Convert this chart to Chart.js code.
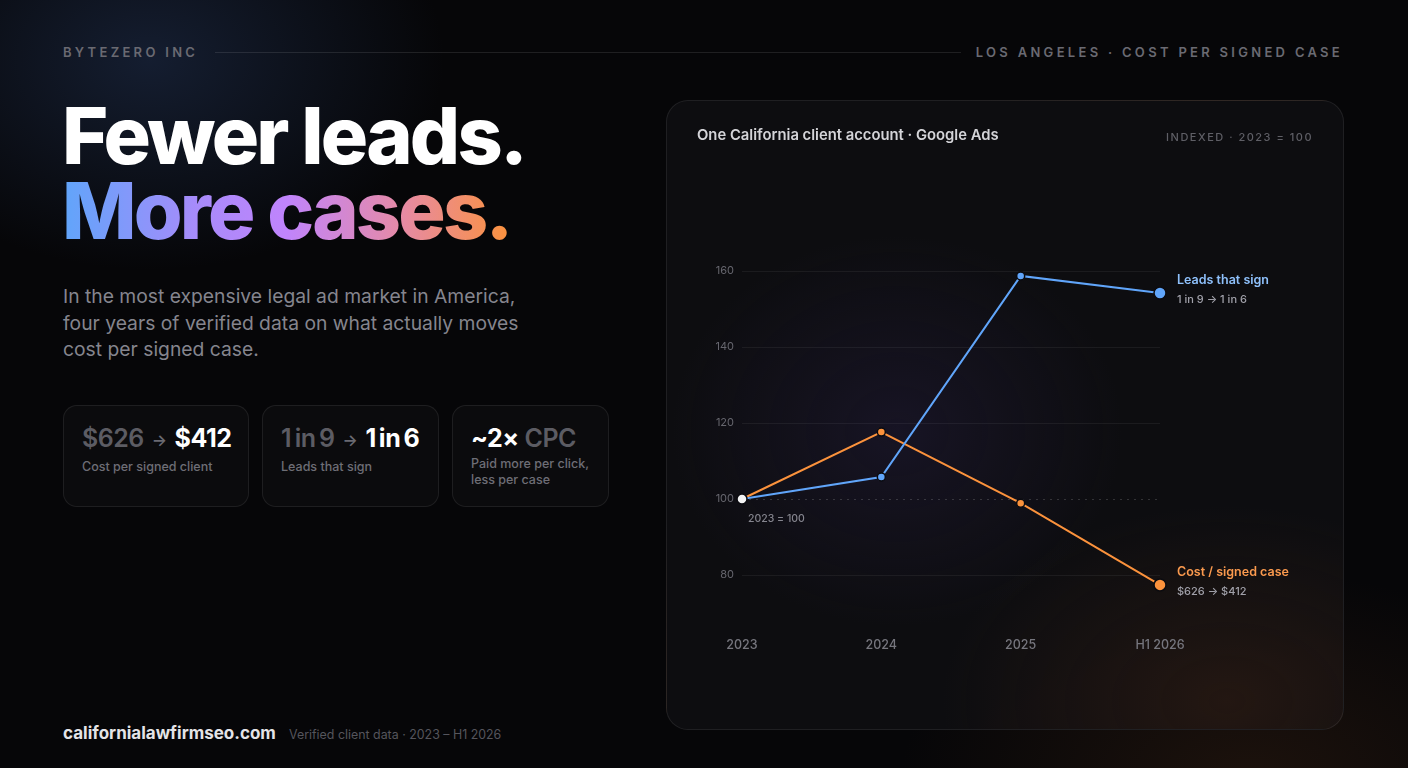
<!DOCTYPE html>
<html>
<head>
<meta charset="utf-8">
<script src="https://cdn.jsdelivr.net/npm/chart.js@4"></script>
<style>
*{margin:0;padding:0;box-sizing:border-box}
html,body{width:1408px;height:768px;overflow:hidden;background:#060608;font-family:Inter,"Noto Sans",sans-serif}
#bg{position:absolute;inset:0;
background:
radial-gradient(ellipse 420px 300px at 150px 60px, rgba(30,45,75,0.6), rgba(0,0,0,0) 70%),
radial-gradient(ellipse 500px 300px at 1250px 780px, rgba(70,40,20,0.35), rgba(0,0,0,0) 70%),
#060608;}
.abs{position:absolute;white-space:nowrap}
.kicker{font-size:13px;font-weight:600;letter-spacing:3.3px;color:#6a6a72;top:44px}
#rule{position:absolute;left:215px;width:746px;top:52px;height:1px;background:rgba(255,255,255,0.1)}
h1{position:absolute;left:62px;top:98px;font-size:79px;font-weight:800;letter-spacing:-2.8px;line-height:75px;color:#fff}
h1 .g{background:linear-gradient(90deg,#60a5fa 0%,#a78bfa 30%,#c084fc 50%,#e58aa8 75%,#fb923c 100%);-webkit-background-clip:text;background-clip:text;color:transparent}
#lede{left:63px;top:283px;font-size:19.3px;line-height:26.5px;color:#85858e;font-weight:400}
.stat{position:absolute;top:405px;height:102px;border-radius:14px;border:1px solid rgba(255,255,255,0.08);background:rgba(255,255,255,0.025);padding:17px 0 0 18px}
.stat .big{font-size:25px;font-weight:600;letter-spacing:-0.5px;color:#5c5c63;line-height:30px;white-space:nowrap}
.stat .big b{color:#fff;font-weight:700}
.stat .big .ar{font-size:16px;color:#6a6a72;margin:0 8px;position:relative;top:-1px;word-spacing:0}
.stat .big.tight{word-spacing:-2.2px}
.stat .sub{font-size:12.5px;font-weight:500;color:#6e6e76;margin-top:3px;line-height:16px}
#card{position:absolute;left:666px;top:100px;width:678px;height:630px;border-radius:22px;border:1px solid rgba(255,255,255,0.08);
background:
radial-gradient(ellipse 300px 260px at 230px 330px, rgba(35,28,60,0.45), rgba(0,0,0,0) 75%),
radial-gradient(ellipse 380px 260px at 560px 600px, rgba(60,35,20,0.45), rgba(0,0,0,0) 75%),
rgba(14,14,18,0.9);overflow:hidden}
#ct{left:30px;top:25px;font-size:14.8px;font-weight:600;color:#d4d4d8}
#ci{right:30px;top:29px;font-size:11px;font-weight:500;letter-spacing:1.5px;color:#5f5f66}
#chart{position:absolute;left:0;top:0}
#foot1{left:63px;top:723px;font-size:17px;font-weight:700;color:#e4e4e7}
#foot2{left:289px;top:727px;font-size:12.4px;color:#55555c}
</style>
</head>
<body>
<div id="bg"></div>
<div class="abs kicker" style="left:63px">BYTEZERO INC</div>
<div id="rule"></div>
<div class="abs kicker" style="right:65px">LOS ANGELES · COST PER SIGNED CASE</div>
<h1>Fewer leads.<br><span class="g">More cases.</span></h1>
<div class="abs" id="lede">In the most expensive legal ad market in America,<br>four years of verified data on what actually moves<br>cost per signed case.</div>

<div class="stat" style="left:63px;width:186px"><div class="big">$626<span class="ar">→</span><b>$412</b></div><div class="sub">Cost per signed client</div></div>
<div class="stat" style="left:262px;width:177px"><div class="big tight">1 in 9<span class="ar">→</span><b>1 in 6</b></div><div class="sub">Leads that sign</div></div>
<div class="stat" style="left:452px;width:157px"><div class="big"><b>~2×</b> CPC</div><div class="sub">Paid more per click,<br>less per case</div></div>

<div id="card">
  <canvas id="chart" width="678" height="630"></canvas>
  <div class="abs" id="ct">One California client account · Google Ads</div>
  <div class="abs" id="ci">INDEXED · 2023 = 100</div>
</div>

<div class="abs" id="foot1">californialawfirmseo.com</div>
<div class="abs" id="foot2">Verified client data · 2023 – H1 2026</div>

<script>
const categories = ["2023", "2024", "2025", "H1 2026"];
const leadsThatSign = [100, 105.8, 158.7, 154.2];
const costPerSignedCase = [100, 117.6, 98.9, 77.4];
const yTicks = [80, 100, 120, 140, 160];
const seriesLabels = ["Leads that sign", "Cost / signed case"];
const seriesNotes = ["1 in 9 → 1 in 6", "$626 → $412"];
const baseNote = "2023 = 100";

const BLUE = "#60a5fa", ORANGE = "#fb923c";
const FONT = "Inter, 'Noto Sans', sans-serif";

const labelsPlugin = {
  id: "endLabels",
  afterDatasetsDraw(chart){
    const ctx = chart.ctx;
    const colors = ["#8ec0fb", "#fb9a4e"];
    chart.data.datasets.forEach((ds, di) => {
      const meta = chart.getDatasetMeta(di);
      const pt = meta.data[meta.data.length - 1];
      ctx.save();
      ctx.textBaseline = "middle";
      ctx.textAlign = "left";
      ctx.font = "600 12.5px " + FONT;
      ctx.fillStyle = colors[di];
      ctx.fillText(seriesLabels[di], pt.x + 17, pt.y - 13);
      ctx.font = "500 11px " + FONT;
      ctx.fillStyle = "#a1a1aa";
      ctx.fillText(seriesNotes[di], pt.x + 17, pt.y + 7);
      ctx.restore();
    });
    const p0 = chart.getDatasetMeta(0).data[0];
    ctx.save();
    ctx.font = "500 10.5px " + FONT;
    ctx.fillStyle = "#85858e";
    ctx.textBaseline = "middle";
    ctx.fillText(baseNote, p0.x + 6, p0.y + 20);
    ctx.restore();
  }
};

new Chart(document.getElementById("chart"), {
  type: "line",
  data: {
    labels: categories,
    datasets: [
      {
        label: seriesLabels[0], data: leadsThatSign, borderColor: BLUE, borderWidth: 2,
        pointBackgroundColor: categories.map((_, i) => i === 0 ? "#f4f4f5" : BLUE),
        pointBorderColor: "#0b0b10", pointBorderWidth: 1.5,
        pointRadius: categories.map((_, i) => i === categories.length - 1 ? 6 : (i === 0 ? 5 : 4)),
        tension: 0, order: 1
      },
      {
        label: seriesLabels[1], data: costPerSignedCase, borderColor: ORANGE, borderWidth: 2,
        pointBackgroundColor: ORANGE, pointBorderColor: "#0b0b10", pointBorderWidth: 1.5,
        pointRadius: categories.map((_, i) => i === categories.length - 1 ? 6 : (i === 0 ? 0 : 4)),
        tension: 0, order: 2
      }
    ]
  },
  options: {
    responsive: false, animation: false,
    layout: { padding: { top: 132, right: 185, bottom: 68, left: 0 } },
    plugins: { legend: { display: false }, tooltip: { enabled: false } },
    scales: {
      x: {
        grid: { display: false, drawTicks: false },
        border: { display: false },
        ticks: { color: "#76767e", font: { family: FONT, size: 12.5, weight: 500 }, padding: 25, maxRotation: 0 },
        afterFit(s){ s.height = 50; }
      },
      y: {
        min: 70, max: 170,
        afterBuildTicks(s){ s.ticks = yTicks.map(v => ({ value: v })); },
        grid: {
          drawTicks: false,
          color: c => c.tick && c.tick.value === 100 ? "rgba(255,255,255,0.16)" : "rgba(255,255,255,0.06)"
        },
        border: { display: false, dash: c => c.tick && c.tick.value === 100 ? [2, 5] : [] },
        ticks: { color: "#66666e", font: { family: FONT, size: 11 }, padding: 8 },
        afterFit(s){ s.width = 75; }
      }
    }
  },
  plugins: [labelsPlugin]
});
</script>
</body>
</html>
